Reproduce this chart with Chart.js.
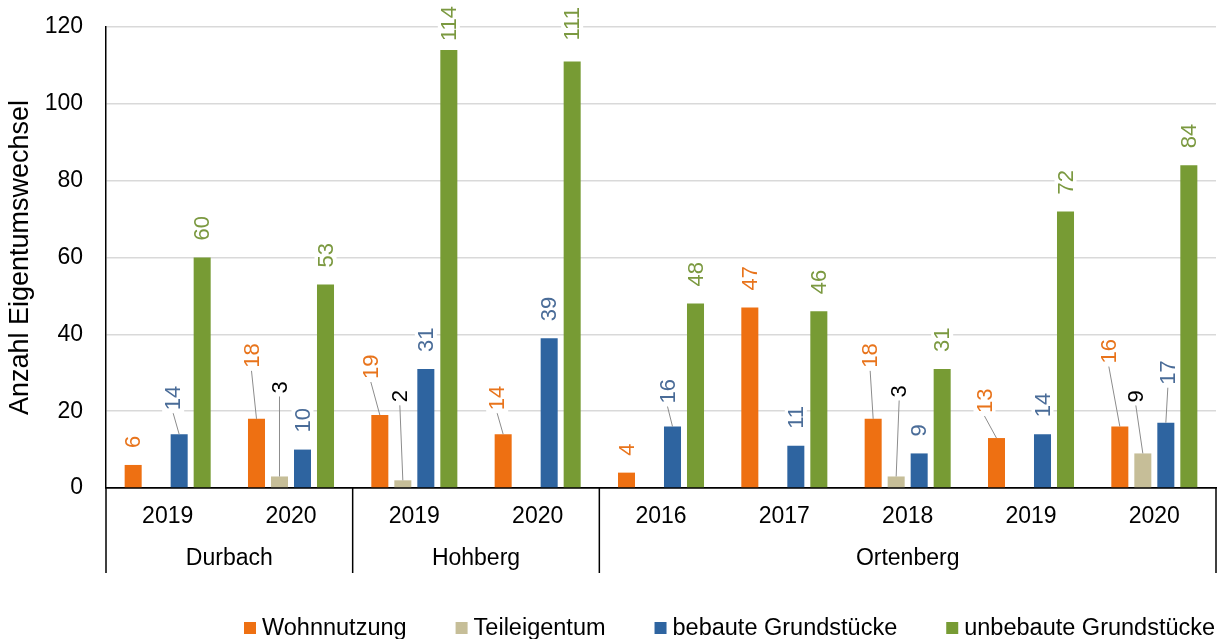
<!DOCTYPE html>
<html>
<head>
<meta charset="utf-8">
<script src="https://cdn.jsdelivr.net/npm/chart.js@4.4.1/dist/chart.umd.min.js"></script>
<style>
	html, body { margin: 0; padding: 0; background: #fff; }
	#wrap { width: 1229px; height: 639px; }
</style>
</head>
<body>
<div id="wrap"><canvas id="myChart" width="1229" height="639"></canvas></div>
<script>
// data
const years = ['2019', '2020', '2019', '2020', '2016', '2017', '2018', '2019', '2020'];
const groups = ['Durbach', 'Hohberg', 'Ortenberg'];
const groupSizes = [2, 2, 5];
const seriesNames = ['Wohnnutzung', 'Teileigentum', 'bebaute Grundstücke', 'unbebaute Grundstücke'];
const wohnnutzung = [6, 18, 19, 14, 4, 47, 18, 13, 16];
const teileigentum = [null, 3, 2, null, null, null, 3, null, 9];
const bebaute = [14, 10, 31, 39, 16, 11, 9, 14, 17];
const unbebaute = [60, 53, 114, 111, 48, 46, 31, 72, 84];
const yTicks = [0, 20, 40, 60, 80, 100, 120];

const FONT = '"Liberation Sans", Arial, sans-serif';
const barColors = ['#EE7012', '#C6BE98', '#2E64A0', '#779B34'];
const labelColors = ['#E8741C', '#000000', '#4A6C98', '#7B9940'];

// manual label nudges (dataset-index) -> [dx, dy], leader line drawn for these
const labelOffsets = {
	'0-1': [-5, -34], '0-2': [-9, -19], '0-3': [-6, -7], '0-6': [-3, -34], '0-7': [-12, -8], '0-8': [-11, -46],
	'1-1': [0, -66], '1-2': [-3, -61], '1-6': [3, -62], '1-8': [-7, -34],
	'2-0': [-6, -7], '2-4': [-5, -6], '2-8': [2, -21]
};
const plainNudges = { '3-2': [0, 8], '3-3': [0, -4] };

const barLabels = {
	id: 'barLabels',
	afterDatasetsDraw(chart) {
		const ctx = chart.ctx;
		ctx.save();
		ctx.font = '22px ' + FONT;
		chart.data.datasets.forEach(function(ds, di) {
			const meta = chart.getDatasetMeta(di);
			meta.data.forEach(function(bar, i) {
				const v = ds.data[i];
				if (v == null) return;
				const key = di + '-' + i;
				const lead = labelOffsets[key];
				const off = lead || plainNudges[key] || [0, 0];
				const txt = String(v);
				const w = ctx.measureText(txt).width;
				const cx = bar.x + off[0];
				const bottom = bar.y - 17 + off[1];
				if (lead) {
					ctx.strokeStyle = '#8C8C8C';
					ctx.lineWidth = 1;
					ctx.beginPath();
					ctx.moveTo(bar.x, bar.y);
					ctx.lineTo(cx, bottom + 3);
					ctx.stroke();
				}
				ctx.fillStyle = '#fff';
				ctx.fillRect(cx - 11, bottom - w - 2, 22, w + 4);
				ctx.save();
				ctx.translate(cx, bottom);
				ctx.rotate(-Math.PI / 2);
				ctx.textAlign = 'left';
				ctx.textBaseline = 'middle';
				ctx.fillStyle = labelColors[di];
				ctx.fillText(txt, 0, 1);
				ctx.restore();
			});
		});
		ctx.restore();
	}
};

const groupAxis = {
	id: 'groupAxis',
	afterDraw(chart) {
		const ctx = chart.ctx;
		const x = chart.scales.x;
		const area = chart.chartArea;
		const top = area.bottom;
		const bot = area.bottom + 85;
		ctx.save();
		ctx.strokeStyle = '#000';
		ctx.lineWidth = 1.5;
		let start = 0;
		const edges = [area.left];
		groupSizes.forEach(function(n) {
			const end = start + n;
			const right = end >= years.length ? area.right : (x.getPixelForValue(end - 1) + x.getPixelForValue(end)) / 2;
			edges.push(right);
			start = end;
		});
		edges.forEach(function(ex) {
			ctx.beginPath();
			ctx.moveTo(ex, top);
			ctx.lineTo(ex, bot);
			ctx.stroke();
		});
		ctx.fillStyle = '#000';
		ctx.font = '23px ' + FONT;
		ctx.textAlign = 'center';
		ctx.textBaseline = 'middle';
		groups.forEach(function(g, k) {
			ctx.fillText(g, (edges[k] + edges[k + 1]) / 2, area.bottom + 71);
		});
		ctx.restore();
	}
};

const bottomLegend = {
	id: 'bottomLegend',
	afterDraw(chart) {
		const ctx = chart.ctx;
		ctx.save();
		ctx.font = '23.5px ' + FONT;
		ctx.textBaseline = 'middle';
		ctx.textAlign = 'left';
		let lx = 244;
		const ly = 628;
		chart.data.datasets.forEach(function(ds) {
			ctx.fillStyle = ds.backgroundColor;
			ctx.fillRect(lx, ly - 6, 12, 12);
			ctx.fillStyle = '#000';
			ctx.fillText(ds.label, lx + 18, ly + 1);
			lx += 18 + ctx.measureText(ds.label).width + 49;
		});
		ctx.restore();
	}
};

let ctx = document.getElementById('myChart').getContext('2d');

let chart = new Chart(ctx, {
	type: 'bar',
	data: {
		labels: years,
		datasets: [
			{ label: seriesNames[0], data: wohnnutzung, backgroundColor: barColors[0] },
			{ label: seriesNames[1], data: teileigentum, backgroundColor: barColors[1] },
			{ label: seriesNames[2], data: bebaute, backgroundColor: barColors[2] },
			{ label: seriesNames[3], data: unbebaute, backgroundColor: barColors[3] }
		]
	},
	options: {
		responsive: false,
		animation: false,
		devicePixelRatio: 1,
		categoryPercentage: 0.746,
		barPercentage: 0.74,
		layout: { padding: { top: 27, right: 13, bottom: 51, left: 0 } },
		plugins: {
			legend: { display: false },
			tooltip: { enabled: false }
		},
		scales: {
			x: {
				grid: { display: false, drawTicks: false },
				border: { display: true, color: '#000', width: 1.5 },
				ticks: { color: '#000', font: { family: FONT, size: 23 }, padding: 15, maxRotation: 0, autoSkip: false },
				afterFit: function(scale) { scale.height = 100; scale.paddingLeft = 0; scale.paddingRight = 0; }
			},
			y: {
				min: yTicks[0],
				max: yTicks[yTicks.length - 1],
				afterBuildTicks: function(scale) { scale.ticks = yTicks.map(function(v) { return { value: v }; }); },
				grid: {
					drawTicks: false,
					lineWidth: 1.5,
					color: function(c) { return c.tick && c.tick.value === 0 ? '#000' : '#D9D9D9'; }
				},
				border: { display: true, color: '#000', width: 1.5 },
				ticks: { color: '#000', font: { family: FONT, size: 23 }, padding: 23 },
				title: {
					display: true,
					text: 'Anzahl Eigentumswechsel',
					color: '#000',
					font: { family: FONT, size: 27 },
					padding: { top: 4, bottom: 0 }
				},
				afterFit: function(scale) { scale.width = 106; scale.paddingTop = 0; scale.paddingBottom = 0; }
			}
		}
	},
	plugins: [barLabels, groupAxis, bottomLegend]
});
</script>
</body>
</html>
